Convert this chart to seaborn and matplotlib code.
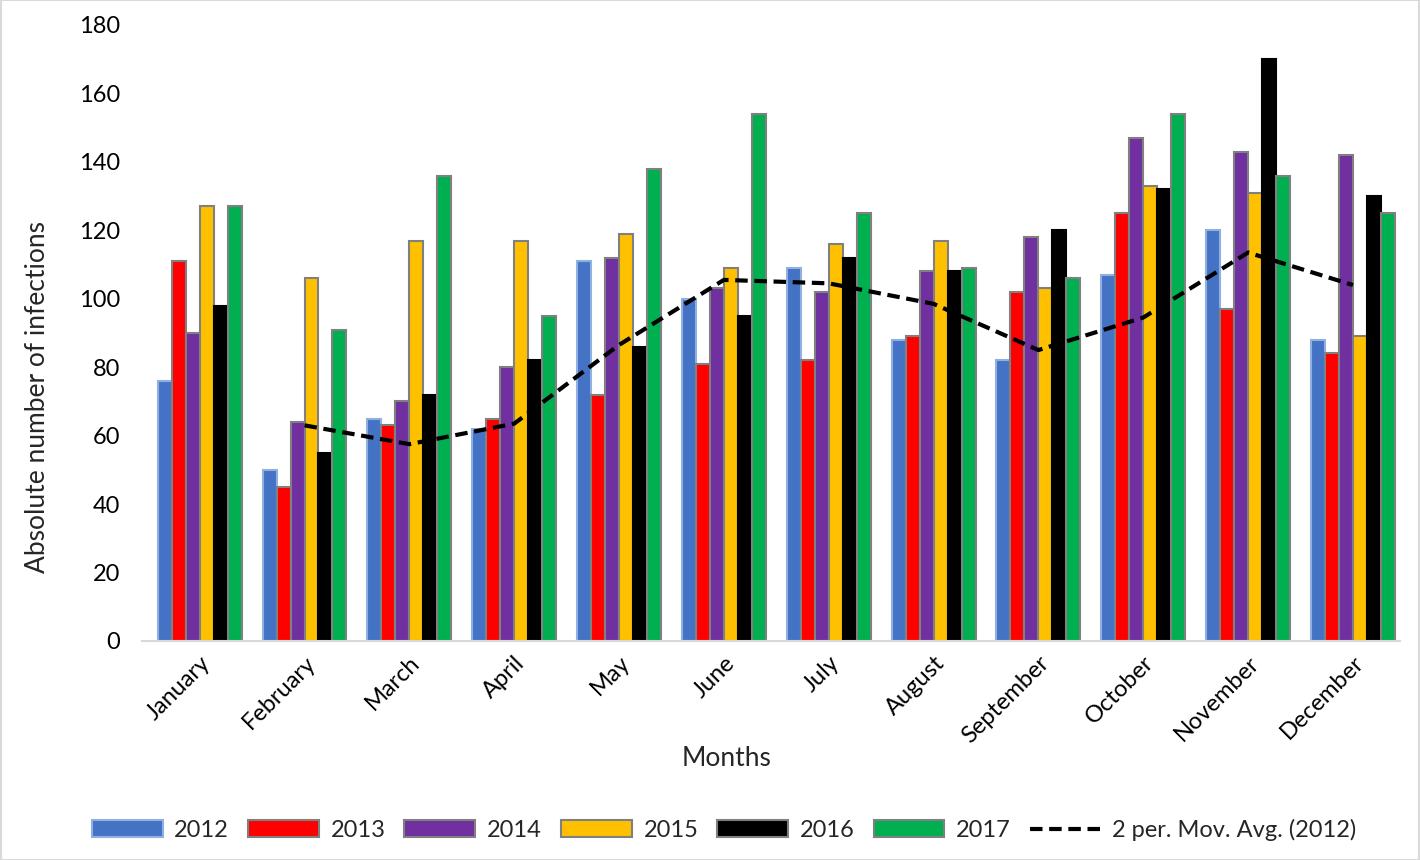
import numpy as np
import pandas as pd
import seaborn as sns
import matplotlib.pyplot as plt

months = ['January', 'February', 'March', 'April', 'May', 'June', 'July',
          'August', 'September', 'October', 'November', 'December']
years = ['2012', '2013', '2014', '2015', '2016', '2017']

y2012 = [76, 50, 65, 62, 111, 100, 109, 88, 82, 107, 120, 88]
y2013 = [111, 45, 63, 65, 72, 81, 82, 89, 102, 125, 97, 84]
y2014 = [90, 64, 70, 80, 112, 103, 102, 108, 118, 147, 143, 142]
y2015 = [127, 106, 117, 117, 119, 109, 116, 117, 103, 133, 131, 89]
y2016 = [98, 55, 72, 82, 86, 95, 112, 108, 120, 132, 170, 130]
y2017 = [127, 91, 136, 95, 138, 154, 125, 109, 106, 154, 136, 125]

colors = ['#4472c4', '#ff0000', '#7030a0', '#ffc000', '#000000', '#00b050']

# tabela longa para o seaborn
df = pd.DataFrame({'Month': months * 6,
                   'Year': np.repeat(years, 12),
                   'Value': y2012 + y2013 + y2014 + y2015 + y2016 + y2017})

# media movel de 2 periodos (2012)
mov_avg = pd.Series(y2012).rolling(2).mean()

sns.set_style('white')
plt.rcParams['font.family'] = ['Lato', 'DejaVu Sans']

fig = plt.figure(figsize=(14.2, 8.6), dpi=100)
ax = fig.add_axes([0.1, 0.2547, 0.886, 0.7163])

sns.barplot(data=df, x='Month', y='Value', hue='Year', order=months,
            hue_order=years, palette=colors, width=0.8, ax=ax,
            legend=False, saturation=1)

for i, cont in enumerate(ax.containers):
    for bar in cont:
        bar.set_edgecolor('#8fb0e0' if i == 0 else ('#000000' if i == 4 else '#808080'))
        bar.set_linewidth(1.5)

sns.lineplot(x=np.arange(12), y=mov_avg.values, color='black', ax=ax,
             linestyle=(0, (3, 1.6)), linewidth=3)

ax.set_ylim(0, 180)
ax.set_xlim(-0.55, 11.45)
ax.set_yticks(range(0, 181, 20))
ax.tick_params(axis='both', labelsize=17, length=0, colors='black')
ax.tick_params(axis='y', pad=16)
ax.tick_params(axis='x', pad=8)
plt.setp(ax.get_xticklabels(), rotation=45, ha='right', rotation_mode='anchor')
ax.set_xlabel('Months', fontsize=19)
ax.set_ylabel('Absolute number of infections', fontsize=19)
ax.xaxis.set_label_coords(0.465, -0.17)
ax.yaxis.set_label_coords(-0.073, 0.396)

for s in ['top', 'right', 'left']:
    ax.spines[s].set_visible(False)
ax.spines['bottom'].set_color('#d9d9d9')
ax.spines['bottom'].set_linewidth(1.5)

handles = [plt.Rectangle((0, 0), 1, 1, facecolor=c,
                         edgecolor=('#8fb0e0' if i == 0 else '#808080'), linewidth=1.5)
           for i, c in enumerate(colors)]
handles.append(plt.Line2D([0], [0], color='black', linestyle=(0, (3, 1.6)), linewidth=3))
fig.legend(handles, years + ['2 per. Mov. Avg. (2012)'], loc='center',
           bbox_to_anchor=(0.51, 0.035), ncol=7, frameon=False, fontsize=17,
           handlelength=3.0, handleheight=0.7, handletextpad=0.5, columnspacing=0.8)

fig.patches.append(plt.Rectangle((0.0005, 0.0005), 0.999, 0.999, transform=fig.transFigure,
                                 fill=False, edgecolor='#d9d9d9', linewidth=1.5))

plt.savefig('out.png', dpi=100)
plt.close()
